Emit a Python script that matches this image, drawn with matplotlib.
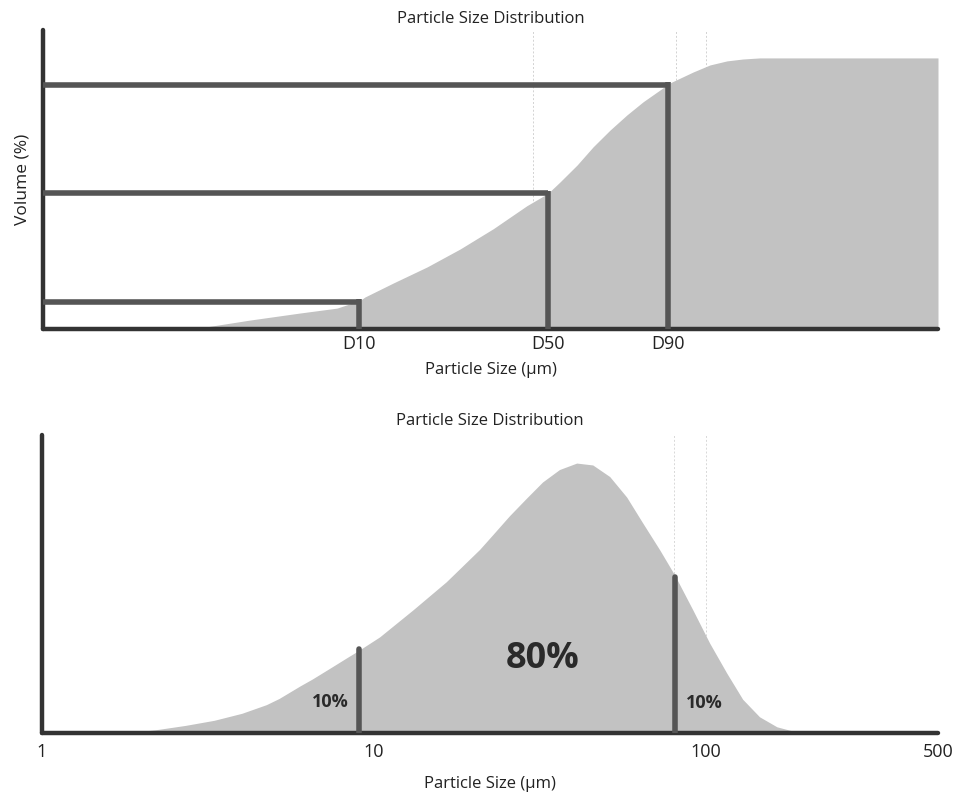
import matplotlib
matplotlib.use('Agg')
import matplotlib.pyplot as plt
from matplotlib.ticker import NullLocator, FixedLocator, FixedFormatter

plt.rcParams['font.family'] = ['Open Sans', 'DejaVu Sans']

# ---- cumulative distribution (top) ----
cum_size = [2.83, 4.21, 5.96, 7.7, 9.03, 9.35, 11.4, 14.4, 18.1, 22.8, 28.8,
            33.3, 36.2, 40.8, 45.6, 51.3, 57.7, 64.5, 72.6, 77.8, 91.3,
            102.6, 115.5, 129, 145, 500]
cum_vol = [0, 3.3, 5.9, 7.7, 10.5, 11.8, 17, 22.9, 29.5, 37, 45.5,
           50, 54.2, 60.5, 67.2, 73.4, 79, 83.8, 88.2, 90.8, 94.8,
           97.4, 98.9, 99.6, 100, 100]
d_labels = ['D10', 'D50', 'D90']
d_values = [9.0, 33.3, 76.7]
d_percent = [10, 50, 90]

# ---- frequency distribution (bottom) ----
dens_size = [1.79, 2.2, 2.7, 3.3, 4.0, 4.74, 5.18, 6.0, 6.52, 7.5, 8.26, 9.0,
             10.4, 13.1, 16.5, 20.8, 22.8, 25.6, 28.8, 32.2, 36.2, 40.8, 45.6,
             51.3, 57.7, 64.5, 72.6, 80.5, 91.3, 102.6, 115.5, 129, 145, 163.5,
             183, 206]
dens_val = [0, 1.2, 2.8, 4.7, 7.3, 10.5, 12.8, 17.5, 20.0, 24.6, 27.8, 30.6,
            35.6, 45.6, 56, 68, 73.5, 80.5, 87, 93, 97.6, 100, 99.3,
            95, 87.4, 77.8, 67.8, 58.5, 45.6, 33.3, 22.2, 12.5, 6, 2.3,
            0.7, 0]
cut_sizes = [9.0, 80.5]
cut_heights = [31.1, 57.8]
region_labels = ['10%', '80%', '10%']
region_x = [7.4, 32.2, 99.2]
region_y = [11.5, 27.4, 11.1]
region_sizes = [13, 26, 13]
tick_vals = [1, 10, 100, 500]
tick_labels = ['1', '10', '100', '500']
faint_top = [30, 81, 100, 500]
faint_bottom = [80, 100, 500]

W, H = 957, 796
fig = plt.figure(figsize=(W / 100, H / 100), dpi=100)

def rect(l, t, r, b):
    return [l / W, 1 - b / H, (r - l) / W, (b - t) / H]

ax1 = fig.add_axes(rect(43, 30, 938, 329))
ax2 = fig.add_axes(rect(42, 435, 938, 733))

fill_col = '#c2c2c2'
line_col = '#555555'
axis_col = '#333333'
text_col = '#222222'

for ax in (ax1, ax2):
    ax.set_xscale('log')
    ax.set_xlim(1, 500)
    for s in ('top', 'right'):
        ax.spines[s].set_visible(False)
    for s in ('left', 'bottom'):
        ax.spines[s].set_linewidth(3.2)
        ax.spines[s].set_color(axis_col)
        ax.spines[s].set_capstyle('round')
    ax.set_yticks([])
    ax.xaxis.set_minor_locator(NullLocator())
    ax.tick_params(axis='x', length=0, colors=text_col)

# top panel
ax1.set_ylim(0, 110.3)
for v in faint_top:
    ax1.axvline(v, color='#d2d2d2', lw=0.7, ls=(0, (2, 2)), zorder=0)
ax1.fill_between(cum_size, cum_vol, 0, color=fill_col, lw=0, zorder=1)
for d, p in zip(d_values, d_percent):
    ax1.plot([1, d], [p, p], color=line_col, lw=4, solid_capstyle='butt', zorder=3)
    ax1.plot([d, d], [0, p + 1.0], color=line_col, lw=4, solid_capstyle='butt', zorder=3)
ax1.xaxis.set_major_locator(FixedLocator(d_values))
ax1.xaxis.set_major_formatter(FixedFormatter(d_labels))
ax1.tick_params(axis='x', labelsize=13, pad=4)
ax1.set_title('Particle Size Distribution', fontsize=12, pad=5, color=text_col)
ax1.set_xlabel('Particle Size (μm)', fontsize=12, labelpad=7, color=text_col)
ax1.set_ylabel('Volume (%)', fontsize=12.5, labelpad=9, color=text_col)

# bottom panel
ax2.set_ylim(0, 110.4)
for v in faint_bottom:
    ax2.axvline(v, color='#d8d8d8', lw=0.7, ls=(0, (2, 2)), zorder=0)
ax2.fill_between(dens_size, dens_val, 0, color=fill_col, lw=0, zorder=1)
for s, h in zip(cut_sizes, cut_heights):
    ax2.plot([s, s], [0, h], color=line_col, lw=4, solid_capstyle='round', zorder=3)
for lab, x, y, fs in zip(region_labels, region_x, region_y, region_sizes):
    ax2.text(x, y, lab, ha='center', va='center', fontsize=fs,
             fontweight='bold', color='#2a2a2a', zorder=4)
ax2.xaxis.set_major_locator(FixedLocator(tick_vals))
ax2.xaxis.set_major_formatter(FixedFormatter(tick_labels))
ax2.tick_params(axis='x', labelsize=13, pad=7)
ax2.set_title('Particle Size Distribution', fontsize=12, pad=7, color=text_col)
ax2.set_xlabel('Particle Size (μm)', fontsize=12, labelpad=11, color=text_col)

fig.savefig('out.png', dpi=100)
